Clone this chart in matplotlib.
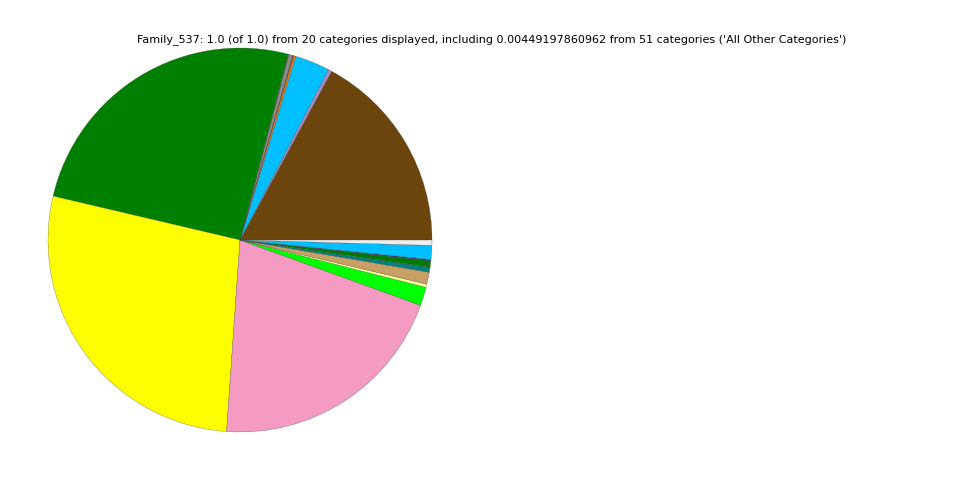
import matplotlib
matplotlib.use("Agg")
import matplotlib.pyplot as plt

# slice fractions, counterclockwise from 3 o'clock
categories = [
    "c01", "c02", "c03", "c04", "c05", "c06", "c07", "c08", "c09",
    "c10", "c11", "c12", "c13", "c14", "c15", "c16", "c17", "All Other Categories",
]
fractions = [
    0.1708, 0.0030, 0.0294, 0.0019, 0.0008, 0.0030, 0.0008, 0.2536, 0.2756,
    0.2058, 0.0156, 0.0028, 0.0100, 0.0042, 0.0053, 0.0011, 0.0118, 0.0045,
]
colors = [
    "#6b450b", "#a58bc8", "#00bfff", "#e8780a", "#5a3a10", "#8c8c8c", "#505050", "#008000", "#ffff00",
    "#f49ac3", "#00ff00", "#ffff99", "#c8a064", "#008080", "#007a00", "#2a2a80", "#00bfff", "#eeeeee",
]
title = ("Family_537: 1.0 (of 1.0) from 20 categories displayed, including "
         "0.00449197860962 from 51 categories ('All Other Categories')")

fig = plt.figure(figsize=(9.6, 4.8), dpi=100)
ax = fig.add_axes([48 / 960, 48 / 480, 384 / 960, 384 / 480])
ax.pie(fractions, colors=colors, startangle=0, counterclock=True,
       wedgeprops={"edgecolor": "#444444", "linewidth": 0.2})
ax.set_xlim(-1, 1)
ax.set_ylim(-1, 1)
ax.set_aspect("equal")
fig.text(492 / 960, 1 - 40 / 480, title, ha="center", va="center", fontsize=8)
fig.savefig("out.png", dpi=100)
